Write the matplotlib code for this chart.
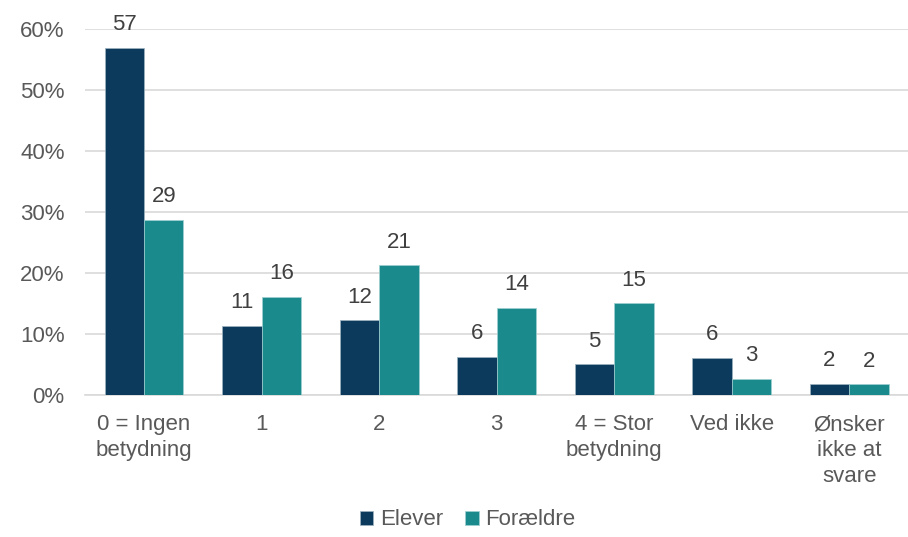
import numpy as np
import matplotlib.pyplot as plt
from matplotlib.ticker import FuncFormatter

categories = ["0 = Ingen\nbetydning", "1", "2", "3", "4 = Stor\nbetydning", "Ved ikke", "Ønsker\nikke at\nsvare"]
elever = [56.9, 11.3, 12.2, 6.2, 5.0, 6.1, 1.8]
foraeldre = [28.7, 16.1, 21.2, 14.3, 15.0, 2.6, 1.7]
series_names = ["Elever", "Forældre"]

plt.rcParams['font.family'] = ['Liberation Sans', 'DejaVu Sans']

dark = "#0B3A5C"
teal = "#1A8A8C"
grey = "#595959"

fig = plt.figure(figsize=(9.08, 5.37), dpi=100)
ax = fig.add_axes([0.094, 0.265, 0.906, 0.681])

x = np.arange(len(categories))
w = 0.335
b1 = ax.bar(x - w / 2, elever, w, color=dark, edgecolor="#9FB3C2", linewidth=0.5, label=series_names[0], zorder=3)
b2 = ax.bar(x + w / 2, foraeldre, w, color=teal, edgecolor="#9FD0D0", linewidth=0.5, label=series_names[1], zorder=3)

for bars, vals in [(b1, elever), (b2, foraeldre)]:
    for rect, v in zip(bars, vals):
        ax.annotate(f"{round(v):d}", (rect.get_x() + rect.get_width() / 2, v),
                    xytext=(0, 9), textcoords="offset points",
                    ha="center", va="bottom", fontsize=16, color="#404040")

ax.set_ylim(0, 60)
ax.set_xlim(-0.5, len(categories) - 0.5)
ax.set_yticks(np.arange(0, 61, 10))
ax.yaxis.set_major_formatter(FuncFormatter(lambda v, p: f"{v:.0f}%"))
ax.set_xticks(x)
ax.set_xticklabels(categories, linespacing=1.3)
ax.tick_params(axis="both", length=0, labelsize=16, colors=grey)
ax.tick_params(axis="x", pad=14)
ax.tick_params(axis="y", pad=15)
ax.grid(axis="y", color="#D9D9D9", linewidth=1.2, zorder=0)
for s in ["top", "right", "left"]:
    ax.spines[s].set_visible(False)
ax.spines["bottom"].set_color("#D9D9D9")
ax.spines["bottom"].set_linewidth(1.2)

fig.legend(loc="lower center", bbox_to_anchor=(0.515, -0.025), ncol=2, frameon=False,
           fontsize=16, handlelength=0.6, handleheight=0.6, handletextpad=0.3,
           columnspacing=1.0, labelcolor=grey)

fig.savefig("out.png", dpi=100)
